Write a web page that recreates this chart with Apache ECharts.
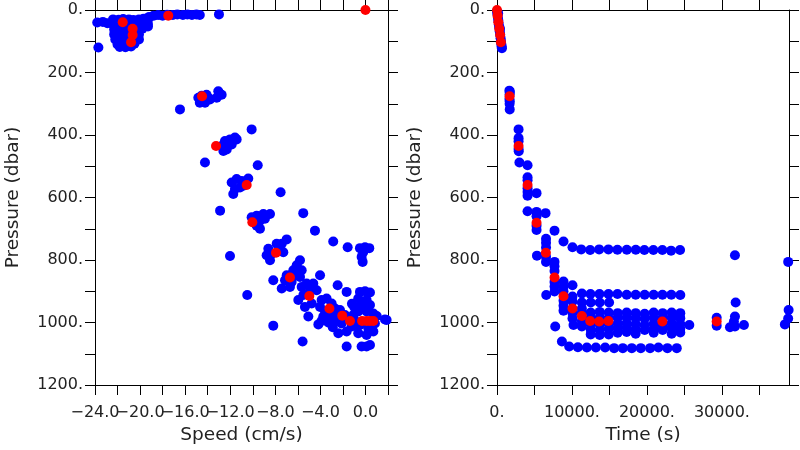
<!DOCTYPE html>
<html>
<head>
<meta charset="utf-8">
<script src="https://cdn.jsdelivr.net/npm/echarts@6/dist/echarts.min.js"></script>
<style>html,body{margin:0;padding:0;background:#fff}#c{width:800px;height:450px}</style>
</head>
<body>
<div id="c"></div>
<script>
// ---- axis tick / label values ----
var speedTicks = [-24,-22,-20,-18,-16,-14,-12,-10,-8,-6,-4,-2,0,2];
var speedLabelsA = [-24,-16,-8,0];
var speedLabelsB = [-20,-12,-4];
var timeTicks = [0,5000,10000,15000,20000,25000,30000,35000];
var timeLabels = [0,10000,20000,30000];
var pressureTicks = [0,100,200,300,400,500,600,700,800,900,1000,1100,1200];
var pressureLabels = [0,200,400,600,800,1000,1200];

// ---- left panel: speed (cm/s) vs pressure (dbar) ----
var speedSurface = [
 [-23.8,40],[-23.3,38],[-22.9,42],[-23.7,120],[-19.3,53],
 [-22.4,30],[-21.9,31],[-21.5,29],[-21.0,30],[-20.6,32],[-20.1,30],[-19.7,28],[-19.3,30],
 [-22.4,46],[-21.9,47],[-21.5,45],[-21.0,46],[-20.6,48],[-20.1,46],[-19.7,44],[-19.3,45],
 [-22.3,62],[-21.9,63],[-21.4,61],[-21.0,62],[-20.5,63],[-20.1,62],[-19.8,60],
 [-22.3,78],[-21.9,79],[-21.4,77],[-21.0,78],[-20.5,80],[-20.1,78],
 [-22.2,94],[-21.8,95],[-21.4,93],[-21.0,94],[-20.5,95],[-20.1,94],
 [-22.0,110],[-21.6,111],[-21.2,109],[-20.8,110],[-20.5,108],
 [-21.8,118],[-21.3,119],[-20.8,117],
 [-19.2,22],[-18.8,18],[-18.4,16],[-18.0,18],[-17.6,15],[-17.1,16],[-16.7,14],
 [-16.2,16],[-15.8,14],[-15.4,16],[-15.0,14],[-14.7,16],[-13.0,14]
];
var speedDescent = [
 [-14.83,281],[-14.53,274],[-14.1,271],[-13.8,286],[-14.24,297],[-14.7,297],[-13.06,260],[-12.76,271],[-13.2,281],[-13.95,281],
 [-16.46,318],[-10.1,382],
 [-12.76,435],[-12.47,419],[-12.02,414],[-11.58,408],[-11.87,430],[-12.31,446],[-12.61,451],[-11.43,414],
 [-14.24,488],[-9.56,497],
 [-11.87,552],[-11.43,541],[-10.98,547],[-10.4,539],[-11.58,573],[-11.13,568],[-11.73,589],[-10.84,562],
 [-12.9,642],[-7.53,583],[-5.52,650],
 [-10.1,663],[-9.65,658],[-9.06,653],[-8.47,653],[-9.36,674],[-8.92,668],[-9.65,690],[-9.36,700],
 [-4.48,706],[-12.02,787],
 [-6.99,734],[-7.43,748],[-7.88,748],[-8.62,764],[-8.33,780],[-8.77,785],[-7.58,769],[-7.29,775],[-8.47,801],
 [-10.49,912],[-8.18,865],
 [-5.81,801],[-6.1,817],[-5.66,833],[-6.4,833],[-6.99,849],[-6.25,849],[-5.81,854],[-7.14,865],[-6.55,870],[-7.43,891],[-6.7,886],
 [-4.03,849],[-2.86,741],[-1.58,759],
 [-2.47,881],[-1.67,902],[-8.18,1010],[-5.58,1061]
];
var speedBottom = [
 [-0.49,762],[-0.04,759],[0.34,762],[-0.2,775],[-0.34,790],[-0.25,806],
 [-5.66,886],[-5.22,875],[-4.63,875],[-5.96,928],[-5.51,912],[-4.92,897],[-4.33,897],[-5.37,950],[-4.77,939],[-5.07,981],[-4.18,1006],
 [-3.89,928],[-3.45,923],[-3.0,939],[-4.03,950],[-3.59,965],[-2.7,955],[-3.74,981],[-3.0,976],[-2.55,976],
 [-2.26,960],[-1.82,976],[-2.7,997],[-2.12,1003],[-1.52,987],[-1.08,976],[-2.41,1034],[-1.67,1029],[-1.23,1013],[-0.78,1008],
 [-3.3,1000],[-2.9,1015],[-3.9,995],[-1.0,950],[-0.9,995],[-1.2,940],
 [-1.67,1077],
 [-0.49,902],[-0.04,900],[0.4,904],[-0.64,923],[0.1,928],[-0.34,944],[0.4,944],[-0.64,965],[0.1,965],[0.7,971],
 [-0.49,1008],[0.25,1019],[0.84,1003],[-0.64,1034],[0.1,1040],[0.7,1029],[-0.34,1077],[0.1,1077],[0.4,1072],
 [1.73,990],[1.0,979],[1.88,992]
];
var speedRed = [
 [0,0],[-17.5,18],[-21.54,39],[-20.66,60],[-20.66,80],[-20.8,103],
 [-14.5,276],[-13.26,435],[-10.54,560],[-10.04,679],[-7.94,777],[-6.7,856],
 [-4.98,915],[-3.2,955],[-2.06,978],[-1.37,995],[-0.3,995],[0.1,995],[0.4,995],[0.7,995]
];

// ---- right panel: time (s) vs pressure (dbar) ----
var timeDescent = [
 [0,5],[60,14],[120,24],[180,34],[240,46],[300,56],[360,68],[420,78],[480,90],[530,100],[580,110],[620,118],[660,122],[150,10],[400,60],
 [1650,258],[1720,262],[1680,270],[1660,285],[1700,292],[1680,300],[1700,318],
 [2877,382],[2877,410],[2877,420],[2877,445],[2900,452],[2990,488],
 [4076,497],[4076,535],[4076,545],[4076,570],[4076,582],[4076,594],[5275,586],[4076,644],
 [5275,646],[5275,660],[5275,690],[5275,704],
 [6474,650],[7672,706],[8871,741],[10070,759],[5330,786],
 [6540,732],[6540,745],[6540,760],[6540,790],[6540,806],[6567,912],
 [7672,806],[7672,820],[7672,835],[7672,870],[7672,885],[7672,901],[7766,1013],
 [8871,869],[8871,885],[8871,900],[8871,930],[8871,946],[8871,962],[8658,1061],
 [10070,917],[10070,933],[10070,970],[10070,987],[10070,881],[10203,1008],
 [11322,955],[11322,968],[11322,995],[11322,1013]
];
var timeParked = [
 [11229,766],[12428,768],[13627,766],[14865,766],[16064,767],[17316,767],[18514,767],[19660,768],[20859,768],[22058,768],[23217,770],[24416,768],
 [11322,907],[12470,909],[13670,909],[14870,909],[16070,909],[17300,911],[18500,911],[19700,911],[20900,911],[22070,911],[23250,911],[24450,912],
 [11322,936],[12500,936],[13700,936],[14950,936],
 [12500,968],[12500,985],[12500,1005],[12500,1022],[12500,1038],
 [13700,966],[13700,984],[13700,1006],[13700,1024],[13700,1040],
 [14900,968],[14900,986],[14900,1004],[14900,1020],[14900,1038],
 [16100,970],[16100,985],[16100,1003],[16100,1018],[16100,1033],
 [17300,968],[17300,984],[17300,1002],[17300,1016],[17300,1030],
 [18500,970],[18500,986],[18500,1005],[18500,1022],[18500,1036],
 [19700,972],[19700,988],[19700,1008],[19700,1024],
 [20900,968],[20900,985],[20900,1004],[20900,1020],[20900,1033],
 [22100,970],[22100,985],[22100,1010],[22100,1024],
 [23300,968],[23300,984],[23300,1002],[23300,1018],[23300,1036],
 [24450,970],[24450,986],[24450,1005],[24450,1020],[24450,1032],
 [9630,1077],[10790,1079],[11990,1080],[13190,1080],[14430,1080],[15625,1082],[16780,1082],[17980,1082],[19180,1082],[20420,1082],[21530,1080],[22730,1082],[23980,1082],
 [25650,1008],
 [29304,985],[29304,1010],
 [31740,785],[31835,936],[31740,981],[31600,997],[31075,1015],[31740,1013],[32940,1008],
 [38400,1006],[38840,987],[38900,960],[38840,806]
];
var timeRed = [
 [0,0],[80,18],[180,39],[300,60],[420,80],[520,103],
 [1680,276],[2877,435],[4076,560],[5275,681],[6520,777],[7672,856],
 [8871,916],[10070,955],[11322,979],[12428,995],[13627,997],[14865,995],[22058,997],[29304,997]
];

var FONT = 'DejaVu Sans';
var TXT = '#222';
function minusFmt(v){ return (v < 0 ? '\u2212' : '') + Math.abs(v).toFixed(1); }
function pFmt(v){ return v + '.'; }
function tFmt(v){ return v + '.'; }
var line = {show:true, onZero:false, lineStyle:{color:'#000', width:1}};
var tick = {show:true, inside:false, length:10, lineStyle:{color:'#000', width:1}};
var labelBase = {margin:20, color:TXT, fontFamily:FONT, fontSize:16, showMinLabel:true, showMaxLabel:true, hideOverlap:false};

function xBottom(grid, min, max, ticks, labels, fmt, name){
  return {type:'value', gridIndex:grid, position:'bottom', min:min, max:max,
    axisLine:line, axisTick:Object.assign({customValues:ticks}, tick),
    axisLabel:Object.assign({customValues:labels, formatter:fmt}, labelBase),
    splitLine:{show:false},
    name:name, nameLocation:'middle', nameGap:41,
    nameTextStyle:{color:TXT, fontFamily:FONT, fontSize:18.5}};
}
function xBottomLabelsOnly(grid, min, max, labels, fmt){
  return {type:'value', gridIndex:grid, position:'bottom', min:min, max:max,
    axisLine:{show:false, onZero:false}, axisTick:{show:false},
    axisLabel:Object.assign({customValues:labels, formatter:fmt}, labelBase),
    splitLine:{show:false}};
}
function xTop(grid, min, max, ticks){
  return {type:'value', gridIndex:grid, position:'top', min:min, max:max,
    axisLine:line, axisTick:Object.assign({customValues:ticks}, tick),
    axisLabel:{show:false}, splitLine:{show:false}};
}
function yLeft(grid){
  return {type:'value', gridIndex:grid, position:'left', inverse:true, min:0, max:1200,
    axisLine:line, axisTick:Object.assign({customValues:pressureTicks}, tick),
    axisLabel:Object.assign({}, labelBase, {customValues:pressureLabels, formatter:pFmt, margin:12}),
    splitLine:{show:false},
    name:'Pressure (dbar)', nameLocation:'middle', nameGap:72, nameRotate:90,
    nameTextStyle:{color:TXT, fontFamily:FONT, fontSize:18.5}};
}
function yRight(grid){
  return {type:'value', gridIndex:grid, position:'right', inverse:true, min:0, max:1200,
    axisLine:line, axisTick:Object.assign({customValues:pressureTicks}, tick),
    axisLabel:{show:false}, splitLine:{show:false}};
}
var blue = {color:'#0000ff', opacity:1};
var red = {color:'#ff0000', opacity:1};

var chart = echarts.init(document.getElementById('c'), null, {renderer:'canvas'});
chart.setOption({
  animation:false,
  backgroundColor:'#fff',
  grid:[
    {left:95, top:10, width:293, height:377},
    {left:497, top:10, width:292, height:377}
  ],
  xAxis:[
    xBottom(0, -24, 2, speedTicks, speedLabelsA, minusFmt, 'Speed (cm/s)'),
    xTop(0, -24, 2, speedTicks),
    xBottom(1, 0, 38950, timeTicks, timeLabels, tFmt, 'Time (s)'),
    xTop(1, 0, 38950, timeTicks),
    xBottomLabelsOnly(0, -24, 2, speedLabelsB, minusFmt)
  ],
  yAxis:[ yLeft(0), yRight(0), yLeft(1), yRight(1) ],
  series:[
    {type:'scatter', xAxisIndex:0, yAxisIndex:0, symbolSize:10, itemStyle:blue, data:speedSurface.concat(speedDescent, speedBottom)},
    {type:'scatter', xAxisIndex:0, yAxisIndex:0, symbolSize:10, itemStyle:red, data:speedRed, z:3},
    {type:'scatter', xAxisIndex:2, yAxisIndex:2, symbolSize:10, itemStyle:blue, data:timeDescent.concat(timeParked)},
    {type:'scatter', xAxisIndex:2, yAxisIndex:2, symbolSize:10, itemStyle:red, data:timeRed, z:3}
  ]
});
</script>
</body>
</html>
